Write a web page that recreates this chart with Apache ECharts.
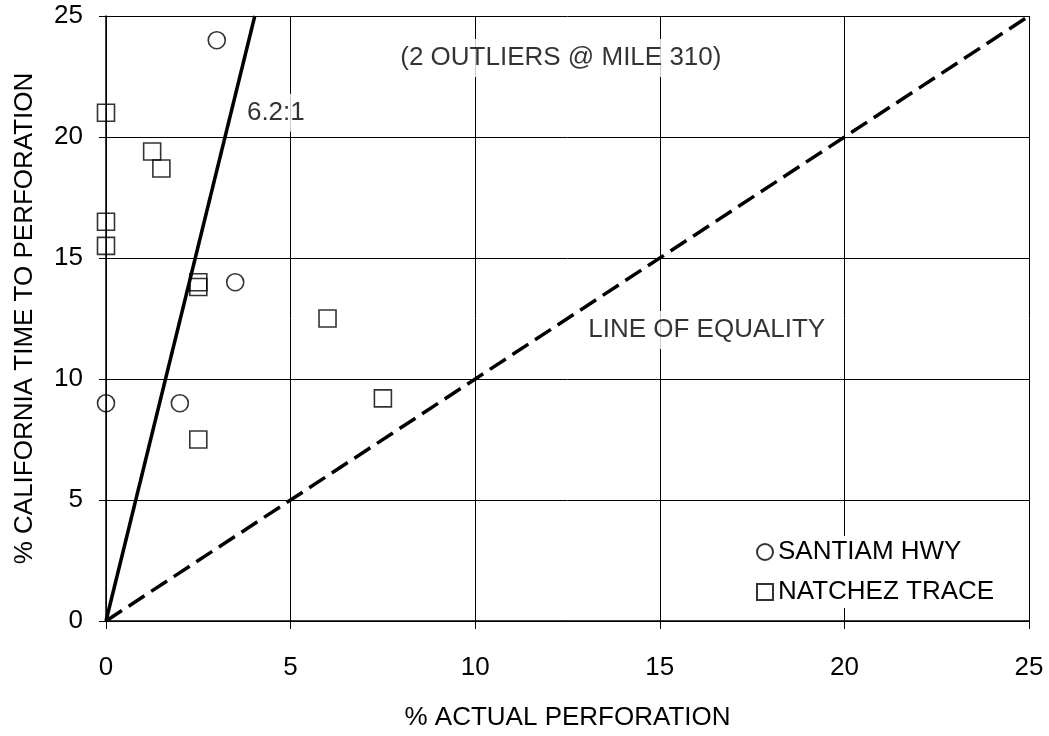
<!DOCTYPE html>
<html>
<head>
<meta charset="utf-8">
<script src="https://cdn.jsdelivr.net/npm/echarts@6/dist/echarts.min.js"></script>
<style>
  html, body { margin: 0; padding: 0; background: #fff; }
  #chart { width: 1049px; height: 736px; }
</style>
</head>
<body>
<div id="chart"></div>
<script>
// values
const santiamX = [0, 2, 3.5, 3];
const santiamY = [9, 9, 14, 24];
const natchezX = [0, 0, 0, 1.25, 1.5, 2.5, 2.5, 6, 7.5, 2.5];
const natchezY = [21, 16.5, 15.5, 19.4, 18.7, 14, 13.8, 12.5, 9.2, 7.5];
const ratioX = [0, 4.03];      // 6.2:1 line
const ratioY = [0, 25];
const equalX = [0, 25];        // line of equality
const equalY = [0, 25];
const noteText = ['6.2:1', '(2 OUTLIERS @ MILE 310)', 'LINE OF EQUALITY'];
const noteX = [4.6, 12.32, 16.27];
const noteY = [21, 23.26, 12.02];
const ticks = [0, 5, 10, 15, 20, 25];

const zip = (xs, ys) => xs.map((x, i) => [x, ys[i]]);
const font = 'Liberation Sans, Arial, sans-serif';

const myChart = echarts.init(document.getElementById('chart'));
const option = {
  animation: false,
  backgroundColor: '#fff',
  textStyle: { fontFamily: font, color: '#000' },
  grid: { left: 106, top: 16, right: 20, bottom: 115, outerBoundsMode: 'none', containLabel: false },
  xAxis: {
    type: 'value',
    min: ticks[0],
    max: ticks[ticks.length - 1],
    interval: 5,
    name: '% ACTUAL PERFORATION',
    nameLocation: 'middle',
    nameGap: 84,
    nameTextStyle: { fontSize: 26, color: '#000', fontFamily: font },
    axisLine: { show: true, lineStyle: { color: '#000', width: 1.5 } },
    axisTick: { show: true, length: 8, lineStyle: { color: '#000', width: 1 } },
    axisLabel: { fontSize: 26, color: '#000', margin: 34, fontFamily: font },
    splitLine: { show: true, lineStyle: { color: '#000', width: 1 } },
  },
  yAxis: {
    type: 'value',
    min: ticks[0],
    max: ticks[ticks.length - 1],
    interval: 5,
    name: '% CALIFORNIA TIME TO PERFORATION',
    nameLocation: 'middle',
    nameGap: 68,
    nameTextStyle: { fontSize: 26, color: '#000', fontFamily: font },
    axisLine: { show: true, lineStyle: { color: '#000', width: 1.5 } },
    axisTick: { show: true, length: 7, lineStyle: { color: '#000', width: 1 } },
    axisLabel: { fontSize: 26, color: '#000', margin: 23, fontFamily: font },
    splitLine: { show: true, lineStyle: { color: '#000', width: 1 } },
  },
  legend: {
    orient: 'vertical',
    left: 752,
    top: 536,
    itemWidth: 16,
    itemHeight: 16,
    itemGap: 14,
    backgroundColor: '#fff',
    padding: [3, 4, 3, 4],
    textStyle: { fontSize: 26, color: '#000', fontFamily: font },
    data: ['SANTIAM HWY', 'NATCHEZ TRACE'],
  },
  series: [
    {
      name: '6.2:1',
      type: 'line',
      data: zip(ratioX, ratioY),
      symbol: 'none',
      lineStyle: { color: '#000', width: 3.5 },
      z: 3,
    },
    {
      name: 'LINE OF EQUALITY',
      type: 'line',
      data: zip(equalX, equalY),
      symbol: 'none',
      lineStyle: { color: '#000', width: 3.5, type: [19, 8] },
      z: 3,
    },
    {
      name: 'notes',
      type: 'scatter',
      data: noteText.map((t, i) => ({ name: t, value: [noteX[i], noteY[i]] })),
      symbolSize: 1,
      itemStyle: { color: 'transparent' },
      label: {
        show: true,
        position: 'inside',
        formatter: '{b}',
        fontSize: 26,
        color: '#000',
        textBorderWidth: 0,
        fontFamily: font,
        backgroundColor: '#fff',
        padding: [6, 4],
      },
      z: 4,
    },
    {
      name: 'SANTIAM HWY',
      type: 'scatter',
      data: zip(santiamX, santiamY),
      symbol: 'circle',
      symbolSize: 17,
      itemStyle: { color: 'transparent', borderColor: '#000', borderWidth: 1.6 },
      z: 5,
    },
    {
      name: 'NATCHEZ TRACE',
      type: 'scatter',
      data: zip(natchezX, natchezY),
      symbol: 'rect',
      symbolSize: 17,
      itemStyle: { color: 'transparent', borderColor: '#000', borderWidth: 1.6 },
      z: 5,
    },
  ],
};
myChart.setOption(option);
</script>
</body>
</html>
